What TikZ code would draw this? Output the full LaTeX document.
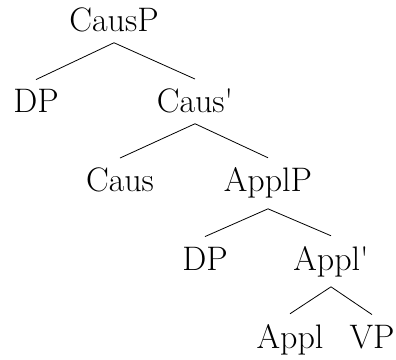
\documentclass[tikz,border=0pt]{standalone}
\usepackage{fontspec}
\usepackage{textcomp}
\begin{document}
\begin{tikzpicture}[x=1pt,y=1pt,
  cat/.style={anchor=base,inner xsep=0pt,inner ysep=10pt,font=\fontsize{34}{40}\selectfont},
  branch/.style={draw=black,line width=0.8pt}]
  \useasboundingbox (0,0) rectangle (396,359);
  % tree levels (baselines)
  \node[cat] (causp)  at (114,327) {CausP};
  \node[cat] (dp1)    at (36,246)  {DP};
  \node[cat] (causb)  at (195,246) {Caus\textquotesingle};
  \node[cat] (caus)   at (120,167) {Caus};
  \node[cat] (applp)  at (268,167) {ApplP};
  \node[cat] (dp2)    at (205,89)  {DP};
  \node[cat] (applb)  at (331,89)  {Appl\textquotesingle};
  \node[cat] (appl)   at (290,11)  {Appl};
  \node[cat] (vp)     at (372,11)  {VP};
  % branches
  \draw[branch] (dp1.north) -- (causp.south) -- (causb.north);
  \draw[branch] (caus.north) -- (causb.south) -- (applp.north);
  \draw[branch] (dp2.north) -- (applp.south) -- (applb.north);
  \draw[branch] (appl.north) -- (applb.south) -- (vp.north);
\end{tikzpicture}
\end{document}
